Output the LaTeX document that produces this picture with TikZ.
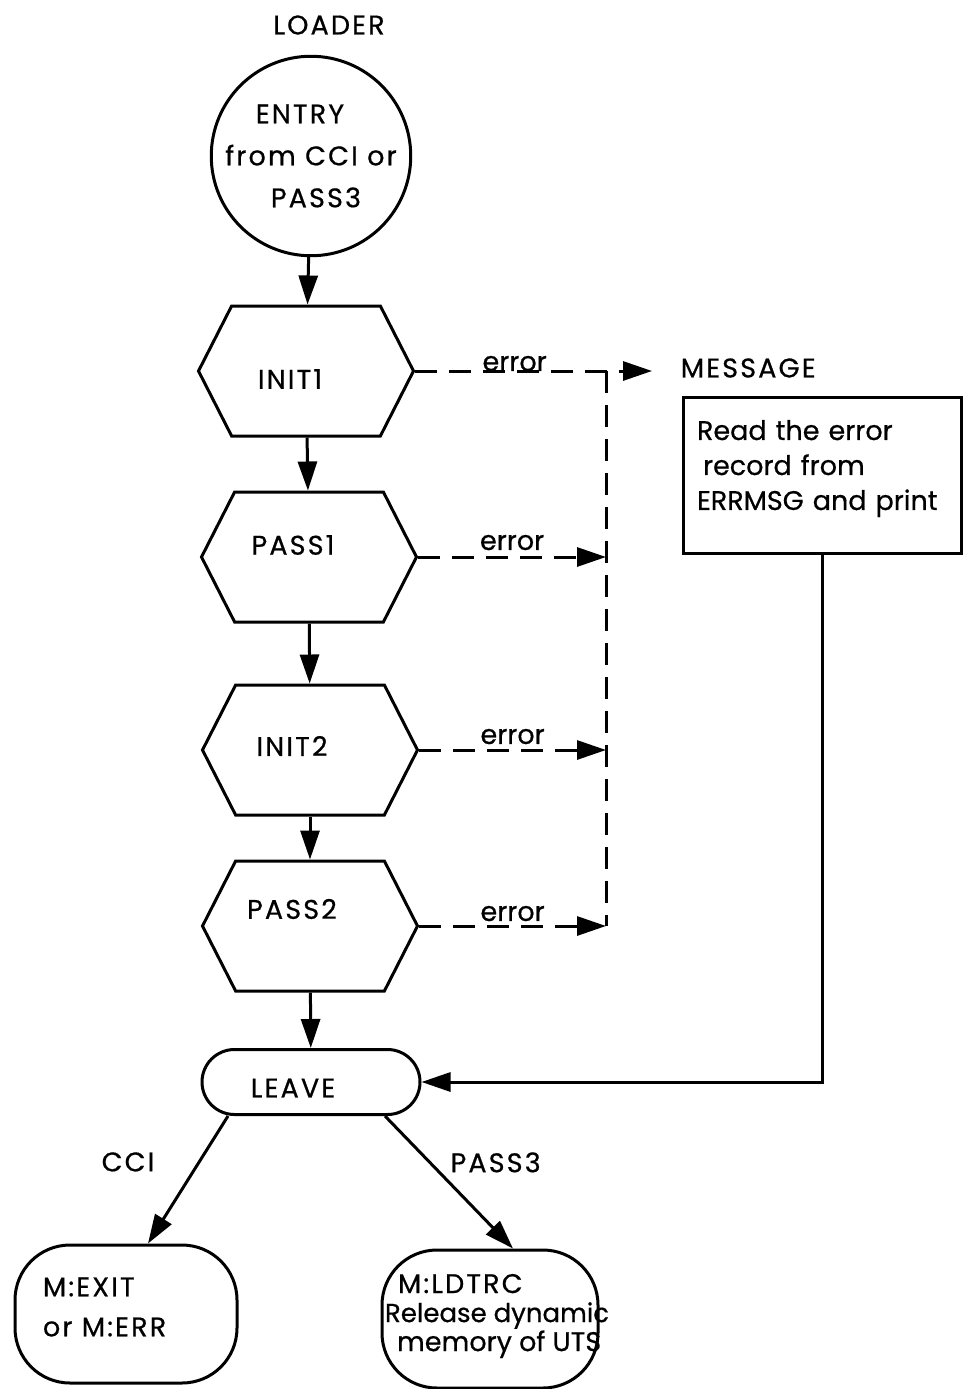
\documentclass[tikz,border=0pt]{standalone}
\usepackage{fontspec}
\setmainfont{Poppins}[LetterSpace = 8, FakeBold = 0.6]
\newfontfamily\plainfont{Poppins}[FakeBold = 0.6]
\usetikzlibrary{shapes.symbols,shapes.misc,arrows.meta}

\tikzset{
    hexbox/.style = {draw, signal, signal to = west and east, signal pointer angle = 126, minimum width = 215pt, minimum height = 130pt, inner sep = 0pt},
    pill/.style = {draw, rounded rectangle, minimum width = 218pt, minimum height = 65pt, inner sep = 0pt},
    endbox/.style = {draw, rectangle, rounded corners = 55pt, minimum width = 222pt, minimum height = 138pt, inner sep = 0pt},
    msgbox/.style = {draw, rectangle, minimum width = 278pt, minimum height = 156pt, inner xsep = 14pt, text width = 250pt, align = left, font = \plainfont\fontsize{27}{35}\selectfont},
    errline/.style = {dash pattern = on 22pt off 12pt},
    errlabel/.style = {font = \plainfont\fontsize{27}{35}\selectfont}
}

\begin{document}
\begin{tikzpicture}[x = 1pt, y = -1pt, font = \fontsize{27}{35}\selectfont, line width = 3pt, > = {Triangle[length = 29pt, width = 19pt]}]
        \useasboundingbox (0, 0) rectangle (963, 1389);

        % Nodes
        \node (loader) at (329, 25) {LOADER};
        \node [draw, circle, minimum size = 190pt, inner sep = 0pt, align = center, font = \fontsize{27}{42}\selectfont] (entry) at (311, 156) {ENTRY\hspace*{22pt}\\from CCI or\\\hspace*{10pt}PASS3};
        \node [hexbox, label = {[xshift = -16pt, yshift = -8pt]center:INIT1}] (init1) at (306, 371) {};
        \node [hexbox, label = {[xshift = -16pt, yshift = 12pt]center:PASS1}] (pass1) at (309, 557) {};
        \node [hexbox, label = {[xshift = -18pt, yshift = 4pt]center:INIT2}] (init2) at (310, 750) {};
        \node [hexbox, label = {[xshift = -18pt, yshift = 17pt]center:PASS2}] (pass2) at (310, 926) {};
        \node [pill, label = {[xshift = -18pt, yshift = -6pt]center:LEAVE}] (leave) at (311, 1082) {};
        \node [anchor = west] (msglabel) at (676, 368) {MESSAGE};
        \node [msgbox] (message) at (822, 475) {Read the error\\\hspace*{6pt}record from\\ERRMSG and print\\[-15pt]\mbox{}};
        \node [endbox, label = {[anchor = west, inner sep = 0pt, xshift = 28pt, yshift = 7pt, align = left, font = \fontsize{27}{40}\selectfont]west:{M:EXIT\\or M:ERR}}] (exit) at (126, 1314) {};
        \node [endbox, minimum width = 216pt, label = {[anchor = west, inner sep = 0pt, xshift = 3pt, yshift = 3pt, align = left, font = \fontsize{27}{29}\selectfont]west:{\hspace*{13pt}M:LDTRC\\{\plainfont\fontsize{26}{29}\selectfont Release dynamic}\\\hspace*{12pt}{\plainfont memory of UTS}}}] (ldtrc) at (490, 1319) {};
        \coordinate (msgin) at ([xshift = -24pt]msglabel.west);
        \coordinate (bustop) at (606, 371);
        \coordinate (busbot) at (606, 926);

        % Draw the links
        \draw [->] (entry) -- (init1);
        \draw [->] (init1) -- (pass1);
        \draw [->] (pass1) -- (init2);
        \draw [->] (init2) -- (pass2);
        \draw [->] (pass2) -- (leave);
        \draw [->] ([xshift = -83pt]leave.south) -- ([xshift = 22pt]exit.north) node [pos = 0.36, left = 40pt] {CCI};
        \draw [->] ([xshift = 74pt]leave.south) -- ([xshift = 23pt]ldtrc.north) node [pos = 0.35, right = 16pt] {PASS3};
        \draw [->] (message.south) -- (message.south |- leave.east) -- (leave.east);

        % Error branches
        \draw [errline, ->] (init1.east) -- (init1.east -| msgin) node [errlabel, pos = 0.42, above = -5pt] {error};
        \draw [errline] (bustop) -- (busbot);
        \draw [errline, ->] (pass1.east) -- (pass1.east -| bustop) node [errlabel, midway, above = 2pt] {error};
        \draw [errline, ->] (init2.east) -- (init2.east -| bustop) node [errlabel, midway, above = 1pt] {error};
        \draw [errline, ->] (pass2.east) -- (pass2.east -| bustop) node [errlabel, midway, above = 0pt] {error};

    \end{tikzpicture}
\end{document}
